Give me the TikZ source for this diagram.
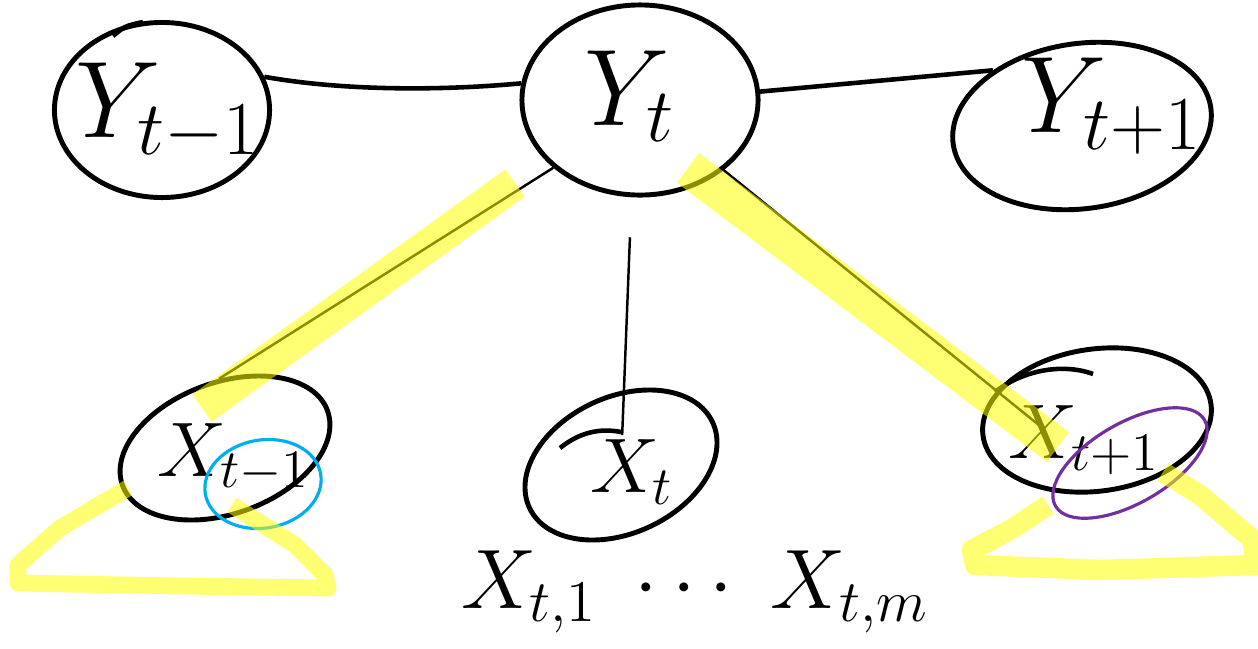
\RequirePackage{fix-cm}
\documentclass[tikz,border=0pt]{standalone}
\usetikzlibrary{shapes.geometric}
\definecolor{hilite}{RGB}{255,255,0}
\definecolor{cyanring}{RGB}{0,174,239}
\definecolor{purplering}{RGB}{112,48,160}

\begin{document}
\begin{tikzpicture}[x=0.01cm,y=-0.01cm,
    blob/.style={draw,ellipse,line width=1.4pt,inner sep=0pt},
    ring/.style={draw,ellipse,line width=0.9pt,inner sep=0pt},
    ylbl/.style={font=\fontsize{31}{31}\selectfont},
    xlbl/.style={font=\fontsize{22}{22}\selectfont},
    thickedge/.style={line width=1.3pt},
    thinedge/.style={line width=0.7pt},
    marker/.style={hilite,opacity=0.55,line join=round}]
\useasboundingbox (0,0) rectangle (1258,648);

% top row
\node[blob,minimum width=2.15cm,minimum height=1.75cm] (Ytm1) at (162,110) {};
\node[ylbl] (Ytm1lbl) at (168,112) {$Y_{t-1}$};
\node[blob,minimum width=2.36cm,minimum height=1.9cm] (Yt) at (640,100) {};
\node[ylbl] (Ytlbl) at (630,96) {$Y_t$};
\node[blob,minimum width=2.6cm,minimum height=1.65cm,rotate=8] (Ytp1) at (1082,126) {};
\node[ylbl] (Ytp1lbl) at (1112,106) {$Y_{t+1}$};

% bottom row
\node[blob,minimum width=2.18cm,minimum height=1.31cm,rotate=20] (Xtm1) at (225,448) {};
\node[xlbl] (Xtm1lbl) at (234,458) {$X_{t-1}$};
\node[blob,minimum width=2.02cm,minimum height=1.36cm,rotate=25] (Xt) at (621,465) {};
\node[xlbl] (Xtlbl) at (632,472) {$X_t$};
\node[blob,minimum width=2.3cm,minimum height=1.42cm,rotate=8] (Xtp1) at (1097,420) {};
\node[xlbl] (Xtp1lbl) at (1084,440) {$X_{t+1}$};
\coordinate (Xtp1tip) at (1045,430);

% rings round the subscripts
\node[ring,cyanring,minimum width=1.17cm,minimum height=0.88cm,rotate=10] (ctm1) at (263,484) {};
\node[ring,purplering,minimum width=1.72cm,minimum height=0.8cm,rotate=30] (ctp1) at (1130,463) {};

\node[font=\fontsize{24}{24}\selectfont] (range) at (695,592) {$X_{t,1}\;\cdots\;X_{t,m}$};

% extra strokes
\draw[line width=1.3pt] (113,36) .. controls (125,26) .. (143,22);
\draw[line width=1.3pt] (560,448) .. controls (580,432) and (600,428) .. (621,432);
\draw[line width=1.3pt] (995,392) .. controls (1020,372) and (1060,362) .. (1093,374);

% edges
\draw[thickedge] (Ytm1.18) .. controls (350,92) and (450,90) .. (Yt.172);
\draw[thickedge] (Yt.4) -- (Ytp1.140);
\draw[thinedge] (Yt.218) -- (Xtm1.75);
\draw[thinedge,shorten <=0.4cm,shorten >=0.3cm] (Yt.265) -- (Xt.center);
\draw[thinedge] (Yt.-40) -- (Xtp1tip);

% highlighter
\draw[marker,line width=9.5pt] (515,183) -- (202,408);
\draw[marker,line width=10.5pt] (688,168) -- (1058,447);
\draw[marker,line width=4.8pt] (128,488) -- (60,528) -- (18,565) -- (18,583) -- (180,586) -- (328,588) -- (325,575) -- (295,545) -- (232,505);
\draw[marker,line width=5.8pt] (1048,505) -- (1010,530) -- (972,550) -- (975,565) -- (1100,570) -- (1255,565) -- (1253,540) -- (1200,495) -- (1163,472);
\end{tikzpicture}
\end{document}
